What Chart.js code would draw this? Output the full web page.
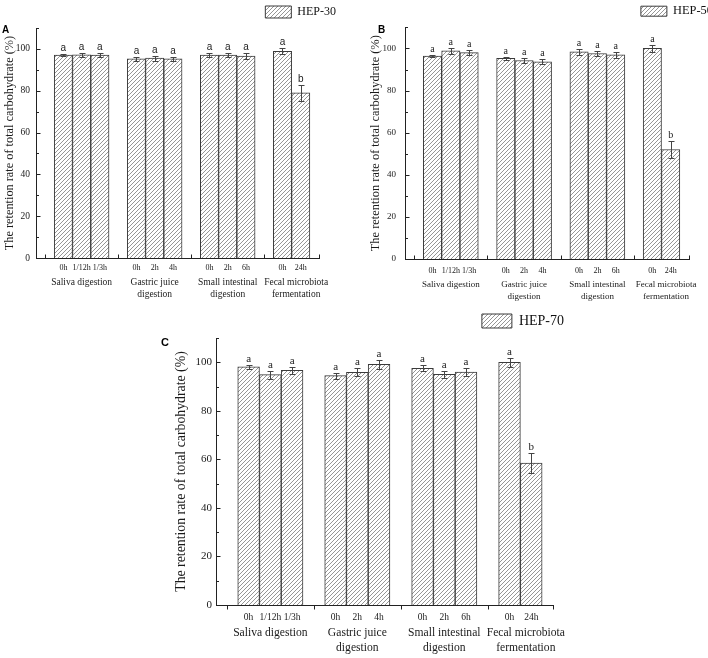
<!DOCTYPE html>
<html>
<head>
<meta charset="utf-8">
<script src="https://cdn.jsdelivr.net/npm/chart.js@4.4.1/dist/chart.umd.min.js"></script>
<style>
  body { margin: 0; background: #fff; }
  #wrap { position: relative; width: 708px; height: 658px; overflow: hidden; background: #fff; }
  .panel { position: absolute; }
</style>
</head>
<body>
<div id="wrap">
  <div class="panel" style="left:0px;top:0px;width:345px;height:305px"><canvas id="chartA"></canvas></div>
  <div class="panel" style="left:354px;top:0px;width:364px;height:305px"><canvas id="chartB"></canvas></div>
  <div class="panel" style="left:150px;top:300px;width:430px;height:358px"><canvas id="chartC"></canvas></div>
</div>
<script>
// --- Data: ---
const timeLabels = ['0h', '1/12h', '1/3h', '0h', '2h', '4h', '0h', '2h', '6h', '0h', '24h'];
const groupNames = [['Saliva digestion'], ['Gastric juice', 'digestion'], ['Small intestinal', 'digestion'], ['Fecal microbiota', 'fermentation']];
const groupSizes = [3, 3, 3, 2];
const yTicks = [0, 20, 40, 60, 80, 100];

const hep30Values = [97.1, 97.2, 97.0, 95.3, 95.6, 95.2, 97.0, 97.0, 96.6, 98.9, 79.0];
const hep30Errors = [0.6, 1.0, 1.1, 1.0, 1.2, 0.8, 1.0, 1.0, 1.3, 1.3, 3.8];
const hep30Letters = ['a', 'a', 'a', 'a', 'a', 'a', 'a', 'a', 'a', 'a', 'b'];

const hep50Values = [96.4, 98.9, 98.0, 95.3, 94.3, 93.7, 98.4, 97.6, 97.0, 100.0, 52.0];
const hep50Errors = [0.4, 1.5, 1.1, 0.8, 1.3, 1.2, 1.5, 1.2, 1.5, 1.8, 4.0];
const hep50Letters = ['a', 'a', 'a', 'a', 'a', 'a', 'a', 'a', 'a', 'a', 'b'];

const hep70Values = [98.1, 94.9, 96.7, 94.5, 95.9, 99.2, 97.5, 95.0, 96.0, 100.0, 58.5];
const hep70Errors = [0.7, 1.7, 1.5, 1.2, 1.6, 1.8, 1.2, 1.5, 1.5, 1.8, 4.0];
const hep70Letters = ['a', 'a', 'a', 'a', 'a', 'a', 'a', 'a', 'a', 'a', 'b'];

// slot layout on the x axis: one empty slot before every group
const slotX = [];
const gapX = [];
const groupX = [];
let pos = 0;
groupSizes.forEach((n, g) => {
    gapX.push(pos + 0.5);
    pos += 1;
    for (let k = 0; k < n; k++) slotX.push(pos + k + 0.5);
    pos += n;
});
const xMax = pos + 0.5;
// label centres: middle of the group (last one runs to the axis end)
let start = 0;
groupSizes.forEach((n, g) => {
    start += 1;
    const end = g === groupSizes.length - 1 ? xMax : start + n;
    groupX.push((start + end) / 2);
    start += n;
});

const serif = "'Liberation Serif', 'Times New Roman', serif";

// diagonal hatch used for the bars
const makeHatch = () => {
    const c = document.createElement('canvas');
    c.width = 4; c.height = 4;
    const g = c.getContext('2d');
    g.fillStyle = '#fff';
    g.fillRect(0, 0, 4, 4);
    g.strokeStyle = '#8a8a8a';
    g.lineWidth = 0.9;
    g.beginPath();
    g.moveTo(0, 4); g.lineTo(4, 0);
    g.moveTo(-1, 1); g.lineTo(1, -1);
    g.moveTo(3, 5); g.lineTo(5, 3);
    g.stroke();
    return g.createPattern(c, 'repeat');
};

// error bars, significance letters, tick marks, group names and the panel letter
const decorations = {
    id: 'decorations',
    afterDatasetsDraw(chart, args, opts) {
        const { ctx, scales: { x, y } } = chart;
        const meta = chart.getDatasetMeta(0);
        const values = chart.data.datasets[0].data.map(d => d.y);
        ctx.save();
        ctx.strokeStyle = '#444';
        ctx.lineWidth = 1;
        ctx.fillStyle = '#222';
        ctx.font = opts.letterFont;
        ctx.textAlign = 'center';
        ctx.textBaseline = 'bottom';
        meta.data.forEach((bar, i) => {
            const v = values[i], e = opts.errors[i];
            const cx = Math.round(bar.x) + 0.5;
            const top = Math.round(y.getPixelForValue(v + e)) + 0.5;
            const bot = Math.round(y.getPixelForValue(v - e)) + 0.5;
            ctx.beginPath();
            ctx.moveTo(cx, top); ctx.lineTo(cx, bot);
            ctx.moveTo(cx - 3, top); ctx.lineTo(cx + 3, top);
            ctx.moveTo(cx - 3, bot); ctx.lineTo(cx + 3, bot);
            ctx.stroke();
            ctx.fillText(opts.letters[i], bar.x, top - 1);
        });
        ctx.restore();
    },
    afterDraw(chart, args, opts) {
        const { ctx, scales: { x, y } } = chart;
        ctx.save();
        ctx.strokeStyle = '#222';
        ctx.lineWidth = 1;
        ctx.beginPath();
        const ax = Math.round(x.left) + 0.5;
        for (let v = 0; v <= 100; v += 20) {
            const py = Math.round(y.getPixelForValue(v)) + 0.5;
            ctx.moveTo(ax, py); ctx.lineTo(ax + 4, py);
        }
        for (let v = 10; v <= 110; v += 20) {
            const py = Math.round(y.getPixelForValue(v)) + 0.5;
            ctx.moveTo(ax, py); ctx.lineTo(ax + 2.5, py);
        }
        const ay = Math.round(y.bottom) + 0.5;
        gapX.concat([xMax]).forEach(v => {
            const px = Math.round(x.getPixelForValue(v)) + 0.5;
            ctx.moveTo(px, ay); ctx.lineTo(px, ay + opts.xTickDir * 4);
        });
        ctx.stroke();

        ctx.fillStyle = '#1a1a1a';
        ctx.font = opts.groupFont;
        ctx.textAlign = 'center';
        ctx.textBaseline = 'middle';
        groupNames.forEach((lines, g) => {
            const px = x.getPixelForValue(groupX[g]);
            lines.forEach((t, k) => ctx.fillText(t, px, y.bottom + opts.groupOffset + k * opts.groupLine));
        });

        ctx.fillStyle = '#000';
        ctx.font = opts.panelFont;
        ctx.textAlign = 'left';
        ctx.textBaseline = 'top';
        ctx.fillText(opts.panel, opts.panelX, opts.panelY);
        ctx.restore();
    }
};

const createPanel = (id, name, values, errors, letters, st) => {
    const ctx = document.querySelector(id).getContext('2d');
    return new Chart(ctx, {
        type: 'bar',
        data: {
            datasets: [{
                label: name,
                data: values.map((v, i) => ({ x: slotX[i], y: v })),
                backgroundColor: makeHatch(),
                borderColor: '#3a3a3a',
                borderWidth: 1,
                barPercentage: 1,
                categoryPercentage: 1
            }]
        },
        options: {
            responsive: true,
            maintainAspectRatio: false,
            animation: false,
            layout: { padding: st.padding },
            plugins: {
                tooltip: { enabled: false },
                legend: {
                    position: 'top',
                    align: 'end',
                    labels: {
                        boxWidth: st.boxW,
                        boxHeight: st.boxH,
                        padding: st.legendPad,
                        color: '#111',
                        font: { family: serif, size: st.legendSize }
                    }
                },
                decorations: {
                    errors: errors,
                    letters: letters,
                    letterFont: st.letterFont,
                    groupFont: `${st.groupSize}px ${serif}`,
                    groupOffset: st.groupOffset,
                    groupLine: st.groupLine,
                    xTickDir: st.xTickDir,
                    panel: st.panel,
                    panelFont: st.panelFont,
                    panelX: st.panelX,
                    panelY: st.panelY
                }
            },
            scales: {
                x: {
                    type: 'linear',
                    min: 0,
                    max: xMax,
                    offset: false,
                    grid: { display: false, drawTicks: false },
                    border: { display: true, color: '#222', width: 1 },
                    afterBuildTicks: s => { s.ticks = slotX.map(v => ({ value: v })); },
                    afterFit: s => { s.height = st.xHeight; s.paddingLeft = 0; s.paddingRight = st.xPadRight; },
                    ticks: {
                        autoSkip: false,
                        maxRotation: 0,
                        padding: st.xTickPad,
                        color: '#1a1a1a',
                        font: { family: serif, size: st.xTickSize },
                        callback: (val, i) => timeLabels[i]
                    }
                },
                y: {
                    min: 0,
                    max: 110,
                    grid: { display: false, drawTicks: false },
                    border: { display: true, color: '#222', width: 1 },
                    afterBuildTicks: s => { s.ticks = yTicks.map(v => ({ value: v })); },
                    afterFit: s => { s.width = st.yWidth; },
                    ticks: {
                        padding: st.yTickPad,
                        color: '#1a1a1a',
                        font: { family: serif, size: st.yTickSize }
                    },
                    title: {
                        display: true,
                        text: 'The retention rate of total carbohydrate (%)',
                        color: '#1a1a1a',
                        padding: 0,
                        font: { family: serif, size: st.titleSize }
                    }
                }
            }
        },
        plugins: [decorations]
    });
};

createPanel('#chartA', 'HEP-30', hep30Values, hep30Errors, hep30Letters, {
    padding: { left: 2, top: 0, right: 3, bottom: 0 },
    yWidth: 34, xHeight: 47, xPadRight: 26,
    titleSize: 12.3, yTickSize: 9.5, yTickPad: 6, xTickSize: 8, xTickPad: 5,
    groupSize: 9.5, groupOffset: 24, groupLine: 12, xTickDir: -1,
    legendSize: 12, boxW: 26, boxH: 12, legendPad: 6,
    letterFont: `10px 'Liberation Sans', Arial, sans-serif`,
    panel: 'A', panelFont: `bold 10px 'Liberation Sans', Arial, sans-serif`, panelX: 2, panelY: 25
});

createPanel('#chartB', 'HEP-50', hep50Values, hep50Errors, hep50Letters, {
    padding: { left: 14, top: 0, right: 0, bottom: 0 },
    yWidth: 37, xHeight: 46, xPadRight: 29,
    titleSize: 12.4, yTickSize: 9, yTickPad: 9, xTickSize: 8, xTickPad: 7,
    groupSize: 9, groupOffset: 26, groupLine: 12, xTickDir: -1,
    legendSize: 12.4, boxW: 26, boxH: 10, legendPad: 5,
    letterFont: `10px ${serif}`,
    panel: 'B', panelFont: `bold 10px 'Liberation Sans', Arial, sans-serif`, panelX: 24, panelY: 25
});

createPanel('#chartC', 'HEP-70', hep70Values, hep70Errors, hep70Letters, {
    padding: { left: 23, top: 8, right: 10, bottom: 0 },
    yWidth: 43, xHeight: 53, xPadRight: 27,
    titleSize: 13.8, yTickSize: 11, yTickPad: 4, xTickSize: 9.5, xTickPad: 7,
    groupSize: 11.6, groupOffset: 28, groupLine: 15, xTickDir: 1,
    legendSize: 14, boxW: 30, boxH: 14, legendPad: 6,
    letterFont: `11px ${serif}`,
    panel: 'C', panelFont: `bold 11px 'Liberation Sans', Arial, sans-serif`, panelX: 11, panelY: 37
});
</script>
</body>
</html>
